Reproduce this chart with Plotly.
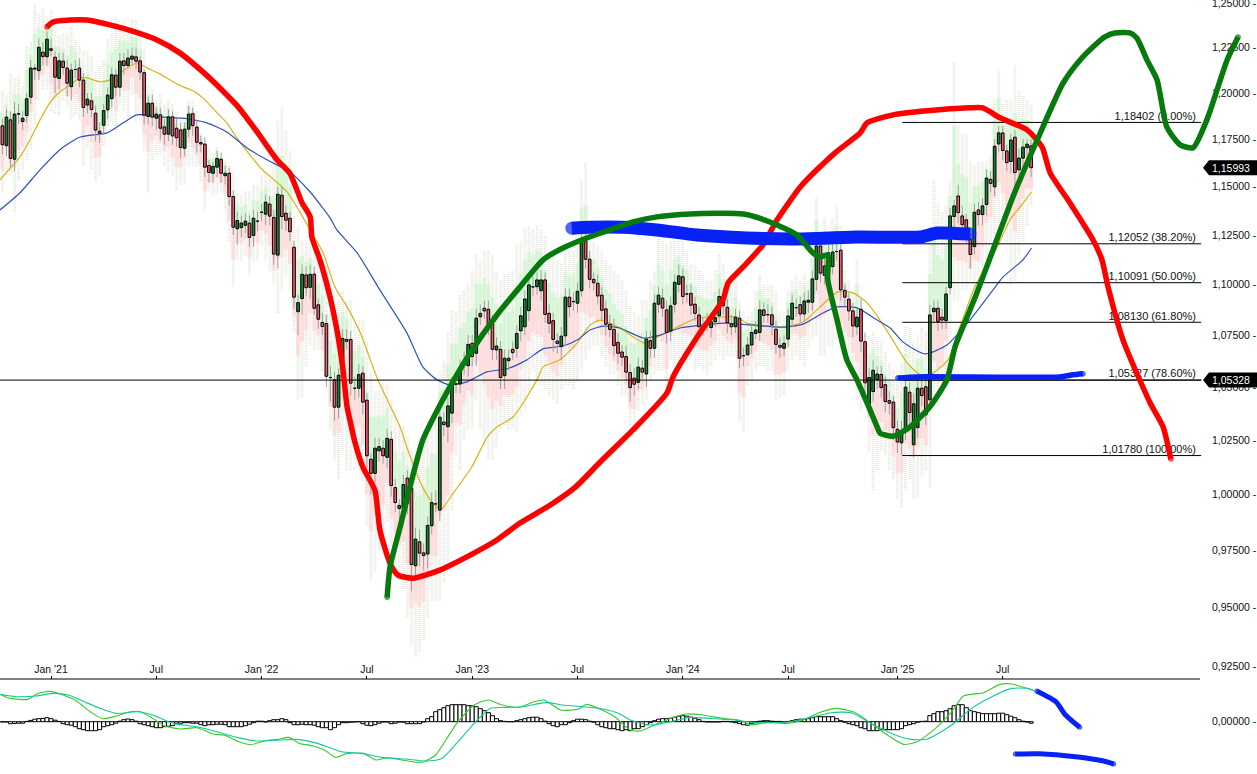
import math
import plotly.graph_objects as go

open_ = [1.1822,1.1716,1.1854,1.1644,1.1887,1.1845,1.1877,1.1977,1.2136,1.2122,
1.2224,1.2199,1.2243,1.2196,1.2079,1.2174,1.2136,1.2034,1.2128,1.2136,
1.2070,1.1934,1.1957,1.1890,1.1793,1.1825,1.1908,1.1969,1.2097,1.2031,
1.2176,1.2150,1.2185,1.2198,1.2176,1.2111,1.1872,1.1944,1.1863,1.1881,
1.1816,1.1777,1.1870,1.1809,1.1800,1.1702,1.1804,1.1887,1.1815,1.1732,
1.1724,1.1611,1.1570,1.1602,1.1644,1.1557,1.1570,1.1448,1.1282,1.1288,
1.1300,1.1311,1.1248,1.1321,1.1367,1.1357,1.1409,1.1340,1.1148,1.1455,
1.1362,1.1336,1.1188,1.0865,1.0930,1.1048,1.0986,1.1052,1.0899,1.0812,
1.0807,1.0545,1.0534,1.0404,1.0549,1.0729,1.0729,1.0494,1.0494,1.0566,
1.0437,1.0161,1.0096,1.0200,1.0212,1.0170,1.0253,1.0031,.9936,.9938,
1.0074,1.0029,.9681,.9787,.9738,.9733,.9859,.9957,.9929,1.0334,
1.0312,1.0376,1.0514,1.0514,1.0618,1.0602,1.0710,1.0662,1.0840,1.0882,
1.0877,1.0805,1.0678,1.0681,1.0554,1.0626,1.0681,1.0686,1.0771,1.0791,
1.0870,1.0988,1.0989,1.0969,1.1023,1.0857,1.0821,1.0721,1.0694,1.0747,
1.0937,1.0915,1.0907,1.0969,1.1220,1.1127,1.1026,1.1006,1.0947,1.0879,
1.0803,1.0778,1.0715,1.0668,1.0646,1.0569,1.0542,1.0522,1.0590,1.0562,
1.0723,1.0686,1.0902,1.0932,1.0874,1.0770,1.0902,1.1001,1.1039,1.0953,
1.0956,1.0902,1.0849,1.0791,1.0814,1.0787,1.0815,1.0845,1.0940,1.0887,
1.0805,1.0791,1.0833,1.0650,1.0654,1.0702,1.0758,1.0763,1.0874,1.0850,
1.0850,1.0779,1.0700,1.0686,1.0731,1.0828,1.0885,1.0900,1.0854,1.0912,
1.0912,1.1026,1.1194,1.1046,1.1159,1.1090,1.1166,1.1173,1.0971,1.0927,
1.0869,1.0791,1.0877,1.0718,1.0420,1.0478,1.0534,1.0560,1.0511,1.0435,
1.0428,1.0300,1.0237,1.0296,1.0475,1.0228,1.0308,1.0494,1.0501,1.0439,
1.0865,1.0882,1.0838,1.0821,1.0984,1.1345,1.1451,1.1348,1.1328,1.1228,
1.1191,1.1379,1.1355,1.1407,1.1538,1.1499,1.1725,1.1784,1.1688,1.1632,
1.1761,1.1588,1.1650,1.1706,1.1715]

close = [1.1721,1.1869,1.1648,1.1885,1.1885,1.1863,1.1968,1.2136,1.2130,1.2251,
1.2199,1.2296,1.2234,1.2086,1.2176,1.2139,1.2053,1.2125,1.2128,1.2070,
1.1921,1.1966,1.1910,1.1799,1.1782,1.1904,1.1988,1.2099,1.2031,1.2174,
1.2150,1.2191,1.2202,1.2174,1.2114,1.1879,1.1944,1.1869,1.1885,1.1809,
1.1777,1.1870,1.1768,1.1758,1.1706,1.1804,1.1885,1.1823,1.1734,1.1725,
1.1602,1.1574,1.1606,1.1648,1.1570,1.1570,1.1448,1.1290,1.1324,1.1311,
1.1321,1.1238,1.1336,1.1321,1.1367,1.1419,1.1347,1.1153,1.1460,1.1345,
1.1326,1.1267,1.0937,1.0910,1.1051,1.0984,1.1051,1.0882,1.0828,1.0792,
1.0551,1.0545,1.0404,1.0556,1.0734,1.0720,1.0518,1.0494,1.0559,1.0428,
1.0177,1.0096,1.0212,1.0219,1.0177,1.0258,1.0040,.9963,.9950,1.0045,
.9960,.9687,.9799,.9737,.9726,.9860,.9963,.9957,1.0357,1.0322,
1.0410,1.0510,1.0514,1.0580,1.0618,1.0705,1.0646,1.0833,1.0857,1.0869,
1.0795,1.0681,1.0697,1.0545,1.0638,1.0638,1.0665,1.0758,1.0845,1.0928,
1.0998,1.0988,1.1023,1.1023,1.0852,1.0808,1.0729,1.0710,1.0745,1.0937,
1.0890,1.0915,1.0966,1.1216,1.1127,1.1026,1.1009,1.0943,1.0872,1.0803,
1.0778,1.0699,1.0662,1.0643,1.0571,1.0497,1.0513,1.0595,1.0571,1.0731,
1.0686,1.0907,1.0947,1.0883,1.0763,1.0894,1.1011,1.1043,1.0940,1.0953,
1.0897,1.0857,1.0791,1.0791,1.0814,1.0815,1.0835,1.0940,1.0894,1.0811,
1.0791,1.0838,1.0638,1.0650,1.0702,1.0763,1.0775,1.0874,1.0847,1.0850,
1.0800,1.0705,1.0691,1.0710,1.0844,1.0907,1.0885,1.0854,1.0918,1.0922,
1.1028,1.1194,1.1057,1.1093,1.1159,1.1163,1.1166,1.0973,1.0937,1.0869,
1.0795,1.0838,1.0721,1.0520,1.0545,1.0580,1.0562,1.0497,1.0431,1.0423,
1.0308,1.0241,1.0293,1.0499,1.0379,1.0420,1.0494,1.0459,1.0368,1.0849,
1.0882,1.0816,1.0824,1.0953,1.1348,1.1400,1.1365,1.1303,1.1282,1.1151,
1.1367,1.1355,1.1400,1.1545,1.1517,1.1713,1.1784,1.1690,1.1626,1.1746,
1.1574,1.1650,1.1708,1.1724,1.15993]

high = [1.186,1.191,1.190,1.195,1.194,1.190,1.200,1.218,1.216,1.230,
1.228,1.234,1.230,1.223,1.222,1.222,1.218,1.216,1.218,1.219,
1.211,1.200,1.200,1.193,1.184,1.194,1.203,1.214,1.213,1.222,
1.222,1.224,1.225,1.225,1.220,1.213,1.198,1.199,1.192,1.192,
1.186,1.191,1.190,1.186,1.184,1.184,1.193,1.192,1.185,1.177,
1.176,1.164,1.163,1.169,1.168,1.161,1.160,1.148,1.137,1.135,
1.136,1.135,1.138,1.137,1.141,1.146,1.145,1.138,1.150,1.150,
1.140,1.137,1.122,1.095,1.110,1.109,1.110,1.109,1.093,1.086,
1.085,1.060,1.057,1.059,1.078,1.078,1.077,1.055,1.061,1.060,
1.047,1.019,1.026,1.026,1.025,1.030,1.029,1.007,.998,1.009,
1.011,1.006,.985,.984,.978,.99,1.001,1.002,1.040,1.038,
1.045,1.055,1.056,1.063,1.067,1.075,1.075,1.088,1.090,1.092,
1.092,1.085,1.074,1.072,1.068,1.068,1.072,1.080,1.089,1.097,
1.104,1.104,1.106,1.107,1.106,1.090,1.086,1.076,1.079,1.098,
1.098,1.096,1.101,1.127,1.127,1.117,1.106,1.105,1.099,1.092,
1.085,1.083,1.076,1.070,1.070,1.061,1.059,1.064,1.063,1.077,
1.077,1.095,1.099,1.098,1.092,1.094,1.105,1.110,1.108,1.100,
1.100,1.094,1.089,1.084,1.086,1.086,1.088,1.098,1.098,1.093,
1.085,1.088,1.087,1.069,1.074,1.080,1.082,1.092,1.091,1.090,
1.089,1.082,1.074,1.075,1.088,1.095,1.093,1.094,1.096,1.097,
1.107,1.124,1.124,1.114,1.121,1.121,1.122,1.122,1.100,1.096,
1.091,1.088,1.093,1.076,1.059,1.063,1.060,1.060,1.055,1.048,
1.046,1.034,1.034,1.054,1.052,1.047,1.054,1.053,1.054,1.090,
1.092,1.092,1.088,1.099,1.139,1.143,1.151,1.140,1.136,1.126,
1.141,1.142,1.144,1.159,1.158,1.175,1.182,1.182,1.172,1.178,
1.180,1.170,1.175,1.175,1.175]

low = [1.167,1.166,1.160,1.158,1.183,1.180,1.184,1.194,1.207,1.207,
1.215,1.215,1.220,1.200,1.202,1.210,1.198,1.196,1.208,1.203,
1.187,1.189,1.187,1.174,1.173,1.178,1.186,1.192,1.198,1.198,
1.210,1.213,1.216,1.213,1.207,1.183,1.183,1.182,1.180,1.175,
1.172,1.174,1.172,1.171,1.165,1.166,1.176,1.177,1.168,1.168,
1.155,1.152,1.152,1.155,1.152,1.151,1.140,1.125,1.120,1.124,
1.126,1.119,1.119,1.127,1.132,1.130,1.130,1.110,1.108,1.128,
1.127,1.122,1.088,1.075,1.085,1.094,1.093,1.085,1.078,1.075,
1.050,1.043,1.034,1.035,1.050,1.068,1.046,1.044,1.045,1.037,
1.012,1.000,1.005,1.015,1.014,1.012,.999,.992,.989,.988,
.991,.957,.963,.968,.966,.967,.982,.992,.988,1.027,
1.024,1.033,1.047,1.047,1.056,1.055,1.060,1.060,1.080,1.083,
1.075,1.063,1.063,1.049,1.049,1.058,1.063,1.064,1.072,1.075,
1.082,1.094,1.095,1.092,1.081,1.076,1.067,1.066,1.063,1.070,
1.084,1.087,1.086,1.094,1.108,1.098,1.097,1.090,1.082,1.075,
1.074,1.065,1.061,1.060,1.053,1.043,1.046,1.049,1.054,1.050,
1.064,1.064,1.086,1.084,1.071,1.072,1.086,1.096,1.090,1.091,
1.085,1.082,1.075,1.075,1.077,1.074,1.079,1.081,1.085,1.076,
1.075,1.076,1.059,1.060,1.066,1.066,1.073,1.072,1.081,1.081,
1.075,1.066,1.064,1.065,1.069,1.079,1.084,1.081,1.082,1.086,
1.087,1.097,1.101,1.100,1.111,1.105,1.112,1.092,1.089,1.082,
1.074,1.075,1.067,1.046,1.037,1.043,1.049,1.045,1.038,1.037,
1.025,1.019,1.018,1.025,1.032,1.017,1.026,1.041,1.032,1.039,
1.081,1.077,1.078,1.078,1.095,1.128,1.131,1.123,1.121,1.108,
1.115,1.130,1.130,1.135,1.147,1.145,1.168,1.164,1.158,1.157,
1.150,1.154,1.160,1.165,1.155]

band_hi = [1.2015,1.199,1.2105,1.208,1.209,1.204,
1.226,1.228,1.249,1.244,1.247,1.242,1.246,
1.24,1.232,1.233,1.233,1.237,1.23,1.226,1.223,1.223,1.22,1.212,1.215,1.218,
1.23,1.233,1.242,1.238,1.24,1.235,1.241,1.241,1.235,
1.224,1.204,1.202,1.196,1.199,1.194,1.196,1.194,1.19,1.187,1.187,1.196,1.196,1.19,1.178,1.175,
1.171,1.168,1.171,1.166,1.164,1.161,1.158,1.148,1.146,1.148,1.148,1.151,1.151,1.156,1.156,1.154,
1.169,1.185,1.192,1.18,1.169,
1.135,1.13,1.122,1.122,1.12,1.117,1.115,1.107,1.11,1.087,1.087,1.092,1.097,1.092,1.092,1.082,1.082,
1.082,1.072,1.0575,1.048,1.048,1.051,1.051,1.044,1.039,1.032,1.032,1.027,1.02,1.018,1.02,1.029,1.034,1.037,1.037,
1.058,1.063,1.077,1.087,1.087,1.095,
1.097,1.1,1.107,1.115,1.112,1.117,1.117,1.115,1.107,1.102,1.105,1.105,1.107,
1.12,1.122,1.128,1.13,1.128,1.13,1.128,1.125,1.117,1.115,1.112,1.111,1.117,1.117,1.117,1.122,1.153,
1.163,1.125,1.122,1.12,1.117,1.112,1.11,
1.107,1.105,1.102,1.097,1.09,1.087,1.085,1.092,1.092,1.102,1.107,
1.123,1.122,1.12,1.122,1.122,1.122,1.122,1.117,1.11,
1.11,1.107,1.105,1.102,1.102,1.107,1.115,1.11,1.102,1.097,1.102,
1.092,1.087,1.085,1.087,1.097,1.105,1.1,1.1,1.1,1.097,1.087,1.087,1.097,1.102,1.105,1.102,1.105,1.102,
1.122,1.144,1.122,1.134,1.122,1.134,1.14,1.13,1.107,
1.102,1.097,1.113,1.092,1.077,1.075,1.077,1.072,1.072,1.067,1.062,1.058,
1.053,1.062,1.079,1.079,1.072,1.075,1.079,1.077,1.122,1.153,1.142,1.137,
1.14,1.153,1.217,1.1825,1.178,1.177,1.163,1.161,1.163,1.163,1.163,1.166,1.196,1.213,1.194,1.196,1.196,1.215,1.201,1.199,1.196,1.194]

band_lo = [1.147,1.156,1.156,1.137,1.153,1.159,
1.164,1.17,1.183,1.196,1.202,1.202,1.19,
1.189,1.188,1.196,1.193,1.186,1.188,1.185,1.161,1.17,1.159,1.153,1.156,1.172,
1.182,1.185,1.18,1.193,1.19,1.187,1.199,1.185,1.185,
1.169,1.147,1.164,1.167,1.167,1.161,1.158,1.156,1.148,1.151,1.152,1.161,1.161,1.161,1.153,1.138,
1.148,1.146,1.146,1.148,1.138,1.122,1.099,1.112,1.112,1.115,1.105,1.112,1.112,1.12,1.112,1.107,
1.1,1.086,1.097,1.105,1.097,
1.077,1.044,1.045,1.06,1.07,1.068,1.068,1.058,1.058,1.03,1.016,1.007,1.02,1.011,1.011,1.011,1.011,
1.006,.986,.962,.966,.975,.977,.988,.977,.971,.962,.958,.946,.934,.929,.931,.936,.946,.953,.953,
.953,.961,.966,.993,1.018,1.011,1.025,1.03,1.03,1.044,1.03,1.022,1.016,1.016,1.022,1.03,1.032,1.03,1.03,
1.029,1.037,1.039,1.049,1.058,1.053,1.051,1.049,1.046,1.044,1.042,1.049,1.051,1.051,1.049,1.053,1.058,1.063,1.068,1.07,1.07,1.065,1.06,1.056,
1.056,1.051,1.046,1.046,1.032,1.03,1.039,1.042,1.044,1.053,1.056,1.058,1.058,1.044,1.063,
1.06,1.058,1.06,1.06,1.063,1.058,1.06,1.058,1.056,1.06,1.063,1.065,1.063,1.065,1.065,1.065,
1.034,1.029,1.051,1.053,1.058,1.06,1.06,1.058,1.058,1.044,1.045,1.046,1.058,1.063,1.065,1.063,1.06,1.07,
1.073,1.075,1.065,1.065,1.07,1.07,1.073,1.068,1.063,1.063,1.056,1.044,1.039,1.044,
1.02,1.002,1.011,1.02,1.018,1.011,1.007,.998,.994,1.002,1.007,.998,.999,1.009,1.011,1.003,
1.041,1.041,1.044,1.053,1.075,1.092,1.092,1.097,1.097,1.102,1.092,1.092,1.102,1.112,1.12,1.122,1.13,1.128,1.122,1.1,1.102,1.115,1.122,1.13,1.14]

yellow_x = [-.6,1.1,4.3,6.8,9.3,11.7,14.2,16.7,19.2,20.9,24.1,26.6,29.8,33.2,35.7,38.9,42.1,44.6,47.1,49.5,53,55.4,57.9,61.1,64.3,67.8,70.3,72.7,76,79.2,82.1,85.1,88.3,92.7,98.2,100.1,103.8,106.3,108.3,111.3,115.9,119.7,122.1,126.1,132,133.5,137.7,141.9,145.1,147.6,150,153.2,158.7,161.6,166.6,171.5,177.9,181.4,183.8,192.7,197.7,201.9,206.3,210,213.5,216.7,220.9,223.4,226.6,229,233.5,236.4,240.1,245.6,248.8,251.3,254.1]
yellow_y = [1.1534,1.1577,1.1655,1.1746,1.1854,1.1946,1.2006,1.2044,1.2082,1.2082,1.2061,1.2071,1.2121,1.2165,1.2137,1.2104,1.2061,1.2033,1.2011,1.1973,1.1892,1.1838,1.1757,1.1667,1.1586,1.1523,1.1472,1.1395,1.1276,1.1159,1.0988,1.0889,1.0765,1.0534,1.0311,1.0204,1.0032,.9960,.9933,1.0005,1.0125,1.0264,1.0311,1.0358,1.0534,1.0596,1.063,1.0711,1.0800,1.0824,1.0809,1.0775,1.0711,1.0740,1.0789,1.0834,1.0839,1.0839,1.0809,1.0789,1.0814,1.0889,1.0963,1.0958,1.0909,1.0824,1.0692,1.0615,1.0558,1.0558,1.063,1.0789,1.0988,1.1189,1.1328,1.1395,1.1472]
blue_x = [-.6,4.3,9.3,14.2,19.2,25.8,29.8,33.2,38.9,45.6,50.5,55.4,60.4,65.3,71,76,80.9,82.6,87.6,93.2,99.9,103.8,107.3,110.5,114.7,119.6,124.6,129.5,133.5,138.4,141.9,145.1,148.3,152.5,158.2,162.4,167.3,173,177.9,184.6,192.7,197.7,202.6,206.1,211,216,219.2,222.4,227.8,233.2,238.9,244.6,247.1,252,254.1]
blue_y = [1.1379,1.1467,1.1588,1.1694,1.1762,1.1784,1.1838,1.1881,1.1870,1.1860,1.1838,1.1789,1.1704,1.1641,1.1577,1.1472,1.1338,1.1276,1.1159,1.0973,1.076,1.0596,1.0534,1.051,1.0524,1.0572,1.0587,1.063,1.0683,1.0697,1.0726,1.0775,1.0794,1.0785,1.0736,1.075,1.0785,1.08,1.0809,1.08,1.0789,1.0804,1.0859,1.0889,1.0884,1.0824,1.0785,1.0716,1.0659,1.0702,1.0824,1.0973,1.1038,1.1124,1.1184]

fib_levels = [1.18402,1.12052,1.10091,1.08130,1.05327,1.01780]
fib_labels = ["1,18402 (0.00%)","1,12052 (38.20%)","1,10091 (50.00%)","1,08130 (61.80%)","1,05327 (78.60%)","1,01780 (100.00%)"]
level_line = 1.05328
last_price = 1.15993

pen_red_x = [11,12.5,16.7,20.9,26.6,32.7,38.2,43.8,49.5,54.2,58.2,62.9,67.8,71,74,76,76.4,78.4,80.9,82.6,84.1,85.1,85.8,87.1,89,92,93.2,95.7,97.7,101.4,108,115.5,122.1,127.8,135.2,141.4,147.6,155.7,164.1,165.6,172.2,177.9,179.2,182.9,187.8,191.3,197,201.1,205.6,211.8,213.5,219.9,228.3,238.9,242.1,246.3,253,256.7,258.7,263.6,269.3,271.5,273,276.7,283.4,286.6,288.5]
pen_red_y = [1.2365,1.2393,1.2404,1.2404,1.2376,1.2337,1.2292,1.2220,1.2115,1.2016,1.1924,1.1789,1.1641,1.1569,1.1415,1.1343,1.1240,1.1124,1.0938,1.0775,1.0582,1.0406,1.0344,1.0236,1.0125,1.0018,.9840,.9693,.9640,.9627,.9662,.9728,.9795,.9871,.9951,1.0032,1.0148,1.0297,1.0472,1.0548,1.0760,1.0923,1.1008,1.1088,1.1200,1.1328,1.1498,1.1588,1.1678,1.1784,1.1838,1.1881,1.1903,1.1919,1.1919,1.1865,1.1800,1.1709,1.1572,1.1415,1.1225,1.1124,1.0988,1.0726,1.0424,1.0311,1.0162]
pen_green_x = [95,95.7,98.2,100.6,103.8,106.8,110.5,115.5,122.1,127.8,133.5,138.4,144.3,150,155.7,161.6,169.8,182.9,189.5,196.2,200.1,201.9,203.8,203.8,206.1,208.5,211,213.5,216,216.7,219.9,224.1,229,233.2,235.2,238.2,240.6,244.6,249.5,255.5,261.9,266.1,269.8,272.2,274.7,278.4,280.1,282.6,285.1,287.5,290.8,294,297.4,302.4,305.1]
pen_green_y = [.9544,.9675,.9853,1.0032,1.025,1.0368,1.05,1.0663,1.0849,1.0988,1.1124,1.1184,1.1235,1.1276,1.1317,1.1343,1.1358,1.1358,1.1317,1.125,1.1159,1.1139,1.1149,1.1023,1.0824,1.063,1.0534,1.0424,1.0311,1.0282,1.0268,1.0311,1.0406,1.0534,1.0692,1.0839,1.0958,1.1174,1.1446,1.1746,1.2054,1.2181,1.2264,1.2309,1.2331,1.2331,1.2303,1.2181,1.2071,1.1816,1.1720,1.1705,1.1854,1.2181,1.2309]
pen_blue1_x = [140.6,145.1,153.2,161.6,171.5,183.8,196.2,211,226.6,230.8,238.9]
pen_blue1_y = [1.1285,1.1290,1.1290,1.1276,1.125,1.1235,1.123,1.124,1.124,1.126,1.1255]
pen_blue2_x = [221.1,225.8,261.1,264.3,266.8]
pen_blue2_y = [1.0543,1.0548,1.0548,1.0558,1.0563]

# MACD panel, values in thousandths
hist = [-.3,-.3,-2,-1.7,-1.5,-1.5,.3,1.3,2.5,3,3.3,4,3,1.5,.3,
-2,-3,-3.5,-5,-7,-8,-9,-9,-9,-8,-5,-4,-3,-1.5,.5,2,2.7,2,.5,-2,-3,-4,-5,-6,-6,-5,-4.5,-4,-1.5,-1.5,-1,-1,-1.5,-1.5,-3,-4,-3,-3,-2.5,-2.5,-3,-5,-5,-5,-5,-4,-2.5,-1,.5,.5,-.3,1,2,2,3,2,-1,-3,-3,-2.5,-3,-3,-3.5,-5,-6,-6,-8,-6,-3,-1,-1,-.5,-.3,0,-2,-3.5,-4,-3,-1.5,-.3,-.3,-2,-1.5,-.3,-.5,-2,-2,-2,-2,-.3,3,5,10,12,14,16,17,17,17,17,16,16,15,13,11,9,6,3,1,.3,0,0,1,2,3,4,4.5,4.5,3,.5,-2,-4,-5,-3,-3,-1,1,2.5,2.5,2,.5,-.5,-3,-5,-6,-7,-7,-8,-9,-8,
-9,-7,-7,-5,-3,-1,1,2.5,3,3,3.5,4.5,5.5,6,5.5,4.5,3.5,2,.3,-.3,-.3,-.3,-.3,.3,.3,-.2,-1,-2,-3,-3.5,-2,-1,.5,1,1,.5,.3,.3,-.3,.3,1,2,2.5,2.5,3,4,5,5,5,5,5,3,1,-.5,-2,-3,-4,-6,-7,-9,-9,-9,-8,-8,-8,-8,-8,-7,-4,-3,-2,-.5,.3,.5,6,8,10,10,11,13,16,17,17,14,11,10,9,8,8,8,8,8.5,8.5,7,5.5,4,2,.5,-.3,-1.5]
macd_x = [-.6,1.9,6.3,8.8,11.8,14.3,18.2,21.7,24.7,28.2,31.6,34.1,37.1,40.1,44,48,52,55,58.4,61.4,64.9,67.9,70.8,73.3,76.8,79.8,82.2,85.2,89.2,92.2,95.1,98.6,102.6,104.1,107,109.5,112.5,116.5,120,123.4,127.4,131.3,133.8,137.8,142.3,144.2,147.2,151.2,155,157.5,161,164.9,168.9,172.9,177.8,181.8,184.8,188.7,193.7,197.7,201.6,206.1,210.6,214.5,218.5,222.5,225.9,230.4,234.4,237.3,242.3,246.3,249.2,254.7]
macd_y = [27.3,23.3,22.3,28.3,30.3,27.7,21,10,3,5.7,10,10,3.3,-4.3,-7.3,-6,-12.3,-13.7,-20,-23,-19,-17.7,-15.7,-21.7,-24.3,-29,-35.7,-31.7,-31.7,-38.3,-36,-38.3,-40.7,-40,-33.3,-18.3,0,16.7,21.7,16.7,14.3,20,21.7,11.7,12.7,17.3,13.3,5,-8.3,-9.3,-3.3,3.3,7.7,6.7,3.3,1.7,-3.3,-.7,-1.7,1.7,9,13.3,9,-1.7,-13.3,-22.7,-20,-6.7,10,25.7,29,37.3,37.7,31]
signal_x = [-.6,3.4,8.3,12.3,16.3,20.2,24.2,28.2,33.1,37.1,42.1,48,53,57.9,62.9,68.8,72.8,77.8,83.7,88.7,93.6,99.6,104.6,108.5,112.5,116.5,120.4,124.4,128.4,134.3,138.3,143.3,148.2,152.2,155,160,164.9,169.9,174.8,180.8,185.8,189.7,194.7,199.6,204.6,209.6,214.5,220.5,224.4,228.4,234.4,239.3,244.3,249.2,253.2,254.7]
signal_y = [27.3,25,25.7,28.3,26.7,20,13.3,8.3,10,6.7,-1.7,-5,-10,-15.7,-19.3,-18.3,-17.7,-21.7,-30,-31.7,-35.7,-37.3,-39.3,-36.7,-20,-1.7,13.3,14.3,15,19.3,16.7,15,12.7,8.3,1.7,-3.3,0,4.3,3.3,1.7,-1,-1,0,4.3,9,9,-1.7,-13.3,-17.7,-17.3,-3.3,13.3,25,33.3,33.3,31]
pen_m1_x = [255.4,260.1,262.5,266]
pen_m1_y = [30.7,20,6.7,-5.6]
pen_m2_x = [250.1,256.1,265,271.9,274.4]
pen_m2_y = [-32.3,-32,-35,-39.3,-42.3]

tick_idx = [12,38,64,90,116,142,168,194,221,247]
tick_txt = ["Jan '21","Jul","Jan '22","Jul","Jan '23","Jul","Jan '24","Jul","Jan '25","Jul"]
price_ticks = [1.225,1.2,1.175,1.15,1.125,1.1,1.075,1.05,1.025,1.0,.975,.95]
price_txt = ["1,22500 -","1,20000 -","1,17500 -","1,15000 -","1,12500 -","1,10000 -","1,07500 -","1,05000 -","1,02500 -","1,00000 -","0,97500 -","0,95000 -"]
edge_ticks = [1.25,.925]
edge_txt = ["1,25000 -","0,92500 -"]

n = len(open_)
assert n == len(close) == len(high) == len(low) == len(band_hi) == len(band_lo), (n, len(close), len(high), len(low), len(band_hi), len(band_lo))
idx = list(range(n))

W, H = 1257, 774
AXIS_PX = 1200
PX_PER_BAR = 4.05
X0 = 2.4
PANEL_PX = 679
TOP_PRICE, BOT_PRICE = 1.2517, 0.9196
xr = [-X0 / PX_PER_BAR, (W - X0) / PX_PER_BAR]
FONT = "Liberation Sans"
INK = "#111111"

def segs(x, y0, y1):
    xs, ys = [], []
    for a, b, c in zip(x, y0, y1):
        xs += [a, a, None]
        ys += [b, c, None]
    return xs, ys

def line(x, y, color, width, z, dash=None, ya="y", xa="x", smooth=False):
    style = dict(color=color, width=width, dash=dash)
    if smooth:
        style.update(shape="spline", smoothing=0.6)
    return go.Scatter(x=x, y=y, mode="lines", hoverinfo="skip", showlegend=False, zorder=z, xaxis=xa, yaxis=ya,
                      connectgaps=False, line=style)

def pen(x, y, color, width, z=6, ya="y", xa="x"):
    sizes = [width] + [0] * (len(x) - 2) + [width]
    return go.Scatter(x=x, y=y, mode="lines+markers", hoverinfo="skip", showlegend=False, zorder=z, xaxis=xa, yaxis=ya,
                      line=dict(color=color, width=width, shape="spline", smoothing=0.6), marker=dict(color=color, size=sizes, line=dict(width=0)))

fig = go.Figure()

# pale range columns behind every candle
GREEN_SHARE, PINK_SHARE = 0.55, 0.55
gt = [c + GREEN_SHARE * (h - c) for c, h in zip(close, band_hi)]
pb = [c - PINK_SHARE * (c - l) for c, l in zip(close, band_lo)]
fig.add_trace(line(*segs(idx, band_lo, band_hi), "#e8e8e0", 3, 0, dash="1px,1px"))
fig.add_trace(line(*segs(idx, close, gt), "rgba(205,245,205,0.7)", 4.05, 0))
fig.add_trace(line(*segs(idx, close, pb), "rgba(255,212,212,0.7)", 4.05, 0))

fig.add_trace(line(yellow_x, yellow_y, "#d8b417", 1.2, 1, smooth=True))
fig.add_trace(line(blue_x, blue_y, "#2f55bb", 1.2, 1, smooth=True))
fig.add_trace(line(*segs(idx, low, high), "#a0a0a0", 1, 1))

body_base = [min(a, b) for a, b in zip(open_, close)]
body_size = [abs(a - b) for a, b in zip(open_, close)]
body_col = ["#0b8a2c" if c >= o else "#f3566c" for o, c in zip(open_, close)]
fig.add_trace(go.Bar(x=idx, y=body_size, base=body_base, width=0.66, hoverinfo="skip", showlegend=False, zorder=2,
                     marker=dict(color=body_col, line=dict(color="#000000", width=1))))

# horizontal levels
fig.add_trace(line([xr[0], 296], [level_line, level_line], "#000000", 1, 3))
for lv in fib_levels:
    fig.add_trace(line([222.2, 296], [lv, lv], "#000000", 1, 3))
fig.add_trace(go.Scatter(x=[294.7] * len(fib_levels), y=fib_levels, text=fib_labels, mode="text", textposition="top left",
                         textfont=dict(family=FONT, size=11, color=INK), hoverinfo="skip", showlegend=False, zorder=3))

# hand-drawn pen strokes
fig.add_trace(pen(pen_red_x, pen_red_y, "#fe0000", 5.5))
fig.add_trace(pen(pen_blue1_x, pen_blue1_y, "#0822f5", 13))
fig.add_trace(pen(pen_blue2_x, pen_blue2_y, "#0822f5", 5.5))
fig.add_trace(pen(pen_green_x, pen_green_y, "#067a0c", 5.5))

# MACD panel
fig.add_trace(go.Bar(x=idx, y=hist[:n], width=1, xaxis="x2", yaxis="y2", showlegend=False, hoverinfo="skip",
                     marker=dict(color="#ffffff", line=dict(color="#000000", width=1))))
fig.add_trace(line(macd_x, macd_y, "#36cc26", 1.1, 1, ya="y2", xa="x2", smooth=True))
fig.add_trace(line(signal_x, signal_y, "#12c8a4", 1.1, 1, ya="y2", xa="x2", smooth=True))
fig.add_trace(pen(pen_m1_x, pen_m1_y, "#0822f5", 5, ya="y2", xa="x2"))
fig.add_trace(pen(pen_m2_x, pen_m2_y, "#0822f5", 5, ya="y2", xa="x2"))

main_bottom = 1 - PANEL_PX / H
ax_pos = AXIS_PX / W

def price_py(p):
    span = math.log(TOP_PRICE / BOT_PRICE)
    return main_bottom + (1 - main_bottom) * (1 - math.log(TOP_PRICE / p) / span)

def tag(p):
    yc = price_py(p)
    hh = 7.5 / H
    x0, x1, x2 = 1203 / W, 1209 / W, 1.0
    return dict(type="path", xref="paper", yref="paper", layer="above",
                path=f"M {x0} {yc} L {x1} {yc + hh} L {x2} {yc + hh} L {x2} {yc - hh} L {x1} {yc - hh} Z",
                fillcolor="#000000", line=dict(width=0))

shapes = [dict(type="line", xref="paper", yref="paper", x0=0, x1=ax_pos, y0=main_bottom, y1=main_bottom,
               line=dict(color="#000000", width=1), layer="above"),
          tag(last_price), tag(level_line)]
anns = [dict(xref="paper", yref="y", x=1231 / W, y=math.log10(p), text=t, showarrow=False, xanchor="center", yanchor="middle",
             font=dict(family=FONT, size=10.5, color="#ffffff"))
        for p, t in [(last_price, "1,15993"), (level_line, "1,05328")]]
anns += [dict(xref="paper", yref="y", x=1211 / W, y=math.log10(p), text=t, showarrow=False, xanchor="left", yanchor="middle",
              xshift=0, font=dict(family=FONT, size=10.5, color=INK), borderpad=0)
         for p, t in zip(edge_ticks, edge_txt)]

fig.update_layout(
    width=W, height=H, margin=dict(l=0, r=0, t=0, b=0), paper_bgcolor="#ffffff", plot_bgcolor="#ffffff",
    showlegend=False, barmode="overlay", font=dict(family=FONT, size=10.5, color=INK), shapes=shapes, annotations=anns,
    xaxis=dict(domain=[0, 1], range=xr, anchor="y", tickmode="array", tickvals=tick_idx, ticktext=tick_txt,
               ticks="inside", ticklen=3, tickcolor="#000000", ticklabelposition="inside", showgrid=False, zeroline=False,
               showline=False, tickfont=dict(family=FONT, size=10.5, color=INK)),
    xaxis2=dict(domain=[0, 1], range=xr, anchor="y2", matches="x", visible=False),
    yaxis=dict(domain=[main_bottom, 1], type="log", range=[math.log10(BOT_PRICE), math.log10(TOP_PRICE)],
               anchor="free", position=ax_pos, side="right", tickmode="array", tickvals=price_ticks, ticktext=price_txt,
               ticks="", ticklabelstandoff=11, showgrid=False, zeroline=False, showline=False, layer="below traces",
               tickfont=dict(family=FONT, size=10.5, color=INK)),
    yaxis2=dict(domain=[0, 94 / H], range=[-52.3, 41.7], anchor="free", position=ax_pos, side="right",
                tickmode="array", tickvals=[0], ticktext=["0,00000 -"], ticks="", ticklabelstandoff=11,
                showgrid=False, zeroline=False, showline=False, tickfont=dict(family=FONT, size=10.5, color=INK)),
)

fig.write_html("out.html", config={"displayModeBar": False},
               post_script="document.body.style.margin='0';document.documentElement.style.overflow='hidden';")
